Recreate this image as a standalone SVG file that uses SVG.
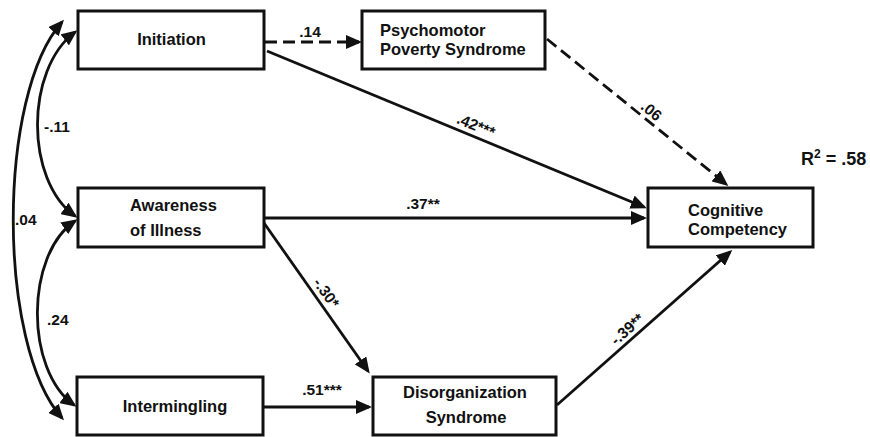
<svg xmlns="http://www.w3.org/2000/svg" width="870" height="437" viewBox="0 0 870 437">
<style>
.box{fill:#fff;stroke:#111;stroke-width:3}
.t{font-family:"Liberation Sans",Arial,sans-serif;font-weight:bold;font-size:16.5px;fill:#111}
.l{font-family:"Liberation Sans",Arial,sans-serif;font-weight:bold;font-size:15.5px;fill:#111}
.c{fill:none;stroke:#111;stroke-width:2.8}
.d{stroke-dasharray:12 6}
</style>
<defs>
<marker id="ah" markerUnits="userSpaceOnUse" markerWidth="16" markerHeight="14" viewBox="0 0 16 14" refX="13" refY="7" orient="auto-start-reverse">
<path d="M0,0 L16,7 L0,14 z" fill="#111"/>
</marker>
</defs>
<rect width="870" height="437" fill="#fff"/>
<g id="connectors">
<path class="c" d="M62,22 C -3,95 -3,345 62,418" marker-start="url(#ah)" marker-end="url(#ah)"/>
<path class="c" d="M75,32 C 25,70 25,180 75,216" marker-start="url(#ah)" marker-end="url(#ah)"/>
<path class="c" d="M75,221 C 25,255 25,370 74,405" marker-start="url(#ah)" marker-end="url(#ah)"/>
<path class="c d" d="M265,42 L359,42" marker-end="url(#ah)"/>
<path class="c" d="M267,51 L644,207" marker-end="url(#ah)"/>
<path class="c" d="M265,218 L644,218" marker-end="url(#ah)"/>
<path class="c d" d="M547,39 L726,184" marker-end="url(#ah)"/>
<path class="c" d="M264,223 L368,371" marker-end="url(#ah)"/>
<path class="c" d="M264,407 L369,407" marker-end="url(#ah)"/>
<path class="c" d="M557,405 L730,252" marker-end="url(#ah)"/>
<text class="l" x="44" y="132">-.11</text>
<text class="l" x="15" y="225">.04</text>
<text class="l" x="47" y="325">.24</text>
<text class="l" x="310" y="37" text-anchor="middle">.14</text>
<text class="l" x="423" y="209" text-anchor="middle">.37**</text>
<text class="l" x="322" y="395" text-anchor="middle">.51***</text>
<text class="l" text-anchor="middle" transform="translate(472,135) rotate(22.7)" y="-5">.42***</text>
<text class="l" text-anchor="middle" transform="translate(645,119) rotate(39)" y="-5">.06</text>
<text class="l" text-anchor="middle" transform="translate(318,299) rotate(54)" y="-5">-.30*</text>
<text class="l" text-anchor="middle" transform="translate(634,337) rotate(-41.5)" y="-5">-.39**</text>
</g>
<g id="initiation">
<rect class="box" x="78" y="11" width="186" height="58"/>
<text class="t" x="171.5" y="45" text-anchor="middle">Initiation</text>
</g>
<g id="psychomotor">
<rect class="box" x="362" y="11" width="183" height="58"/>
<text class="t" x="380" y="36">Psychomotor</text>
<text class="t" x="380" y="55">Poverty Syndrome</text>
</g>
<g id="awareness">
<rect class="box" x="78" y="188" width="186" height="59"/>
<text class="t" x="130" y="211">Awareness</text>
<text class="t" x="130" y="236">of Illness</text>
</g>
<g id="intermingling">
<rect class="box" x="77" y="377" width="186" height="58"/>
<text class="t" x="175" y="412" text-anchor="middle">Intermingling</text>
</g>
<g id="disorganization">
<rect class="box" x="373" y="377" width="183" height="58"/>
<text class="t" x="465" y="398" text-anchor="middle">Disorganization</text>
<text class="t" x="466" y="423" text-anchor="middle">Syndrome</text>
</g>
<g id="cognitive">
<rect class="box" x="648" y="188" width="165" height="59"/>
<text class="t" x="688" y="216">Cognitive</text>
<text class="t" x="688" y="235">Competency</text>
</g>
<g id="r2">
<text class="t" x="801" y="165" style="font-size:18px">R<tspan style="font-size:12px" dy="-7">2</tspan><tspan dy="7"> = .58</tspan></text>
</g>
</svg>
